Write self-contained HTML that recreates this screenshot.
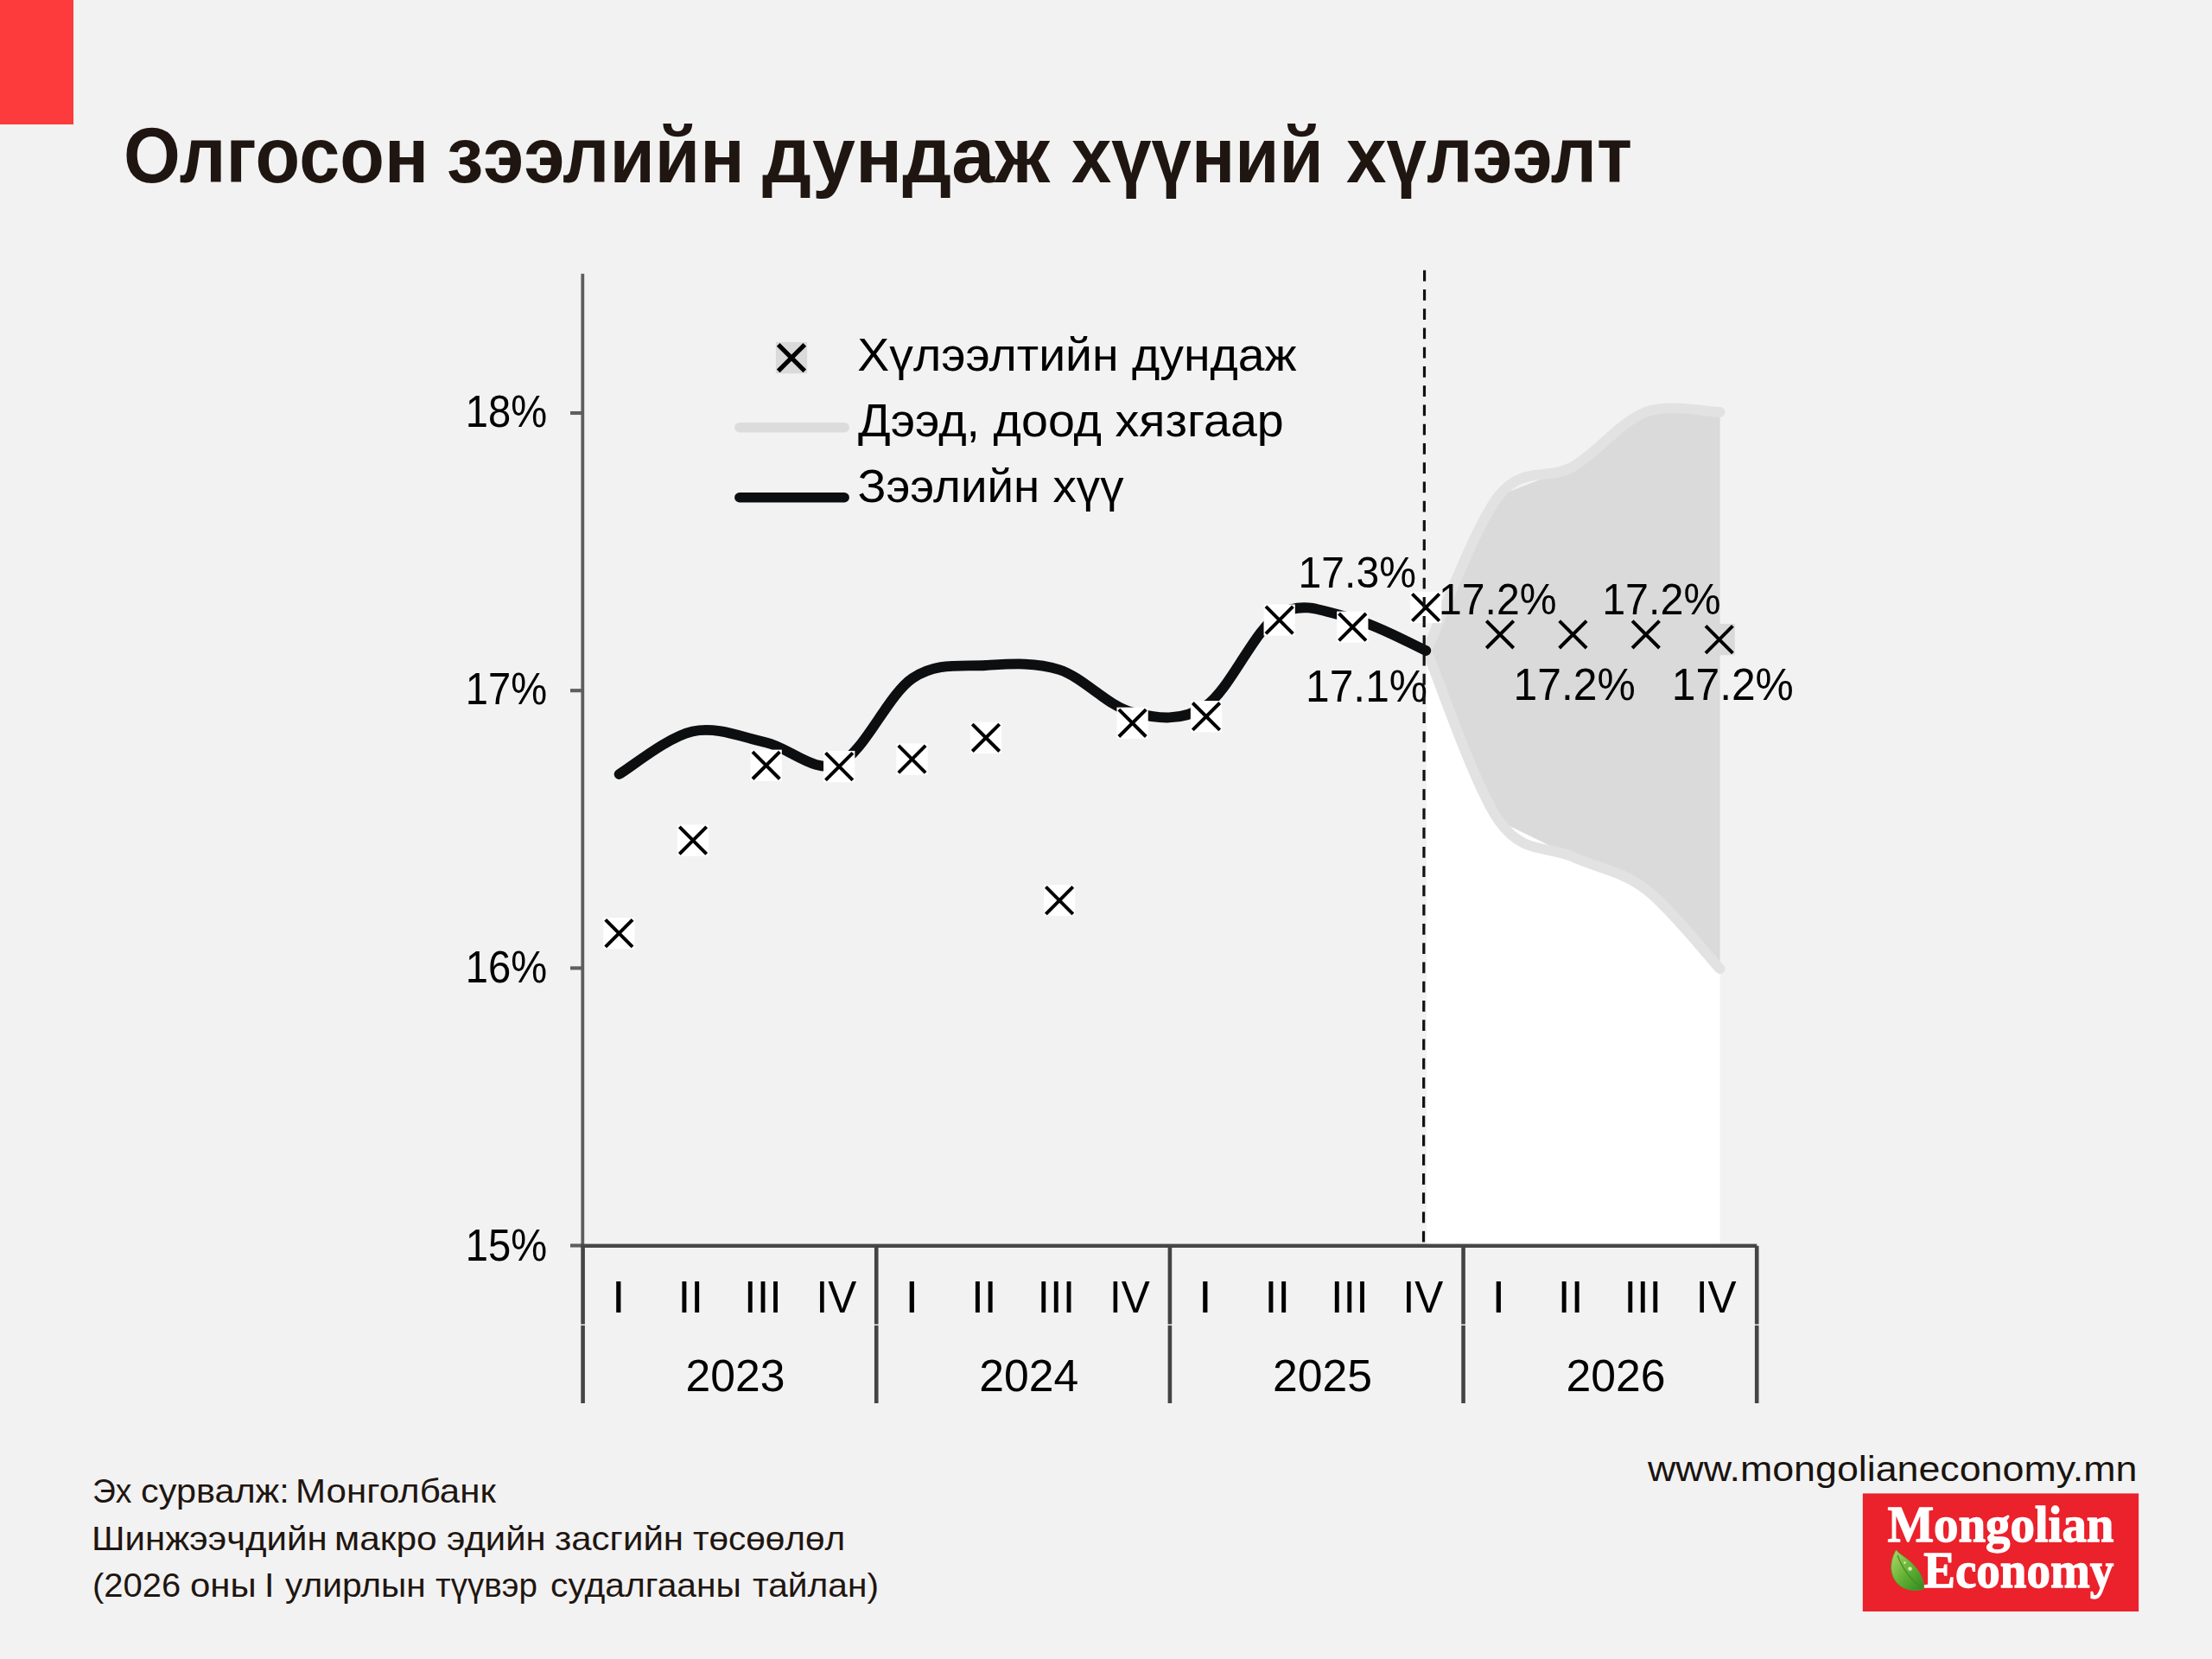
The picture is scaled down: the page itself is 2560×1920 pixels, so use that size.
<!DOCTYPE html>
<html lang="mn">
<head>
<meta charset="utf-8">
<title>Олгосон зээлийн дундаж хүүний хүлээлт</title>
<style>
html,body{margin:0;padding:0;}
body{width:2560px;height:1920px;background:#f2f2f2;position:relative;overflow:hidden;font-family:"Liberation Sans",sans-serif;}
.accent{position:absolute;left:0;top:0;width:84.5px;height:143.7px;background:#fe3b3c;}
h1.title{position:absolute;left:0;top:134.27px;margin:0;font-size:91.00px;line-height:1;font-weight:bold;color:#1f1611;white-space:nowrap;}
h1.title span{position:absolute;top:0;transform-origin:0 0;}
.src{position:absolute;left:0;margin:0;font-size:39.00px;line-height:1;color:#1f1611;white-space:nowrap;}
.src span{position:absolute;top:0;transform-origin:0 0;}
.url{position:absolute;left:1906.91px;top:1679.84px;font-size:40.00px;line-height:1;color:#1a1410;white-space:nowrap;transform-origin:0 0;transform:scaleX(1.11892);}
svg{position:absolute;left:0;top:0;}
</style>
</head>
<body>
<div class="accent"></div>
<h1 class="title"><span style="left:142.91px;transform:scaleX(0.92997)">Олгосон</span> <span style="left:517.46px;transform:scaleX(0.93615)">зээлийн</span> <span style="left:882.03px;transform:scaleX(0.98671)">дундаж</span> <span style="left:1240.28px;transform:scaleX(0.91506)">хүүний</span> <span style="left:1557.57px;transform:scaleX(0.92008)">хүлээлт</span></h1>
<svg width="2560" height="1920" viewBox="0 0 2560 1920">
<text x="1510.97" y="812.10" font-family="'Liberation Sans', sans-serif" font-size="51.50" font-weight="normal" fill="#000" textLength="141.08" lengthAdjust="spacingAndGlyphs">17.1%</text>
<polygon points="1651.00,753.00 1734.80,950.00 1819.70,991.50 1904.50,1029.00 1990.60,1121.30 1990.60,1441.80 1651.00,1441.80" fill="#ffffff"/>
<polygon points="1651.00,753.00 1734.80,950.00 1819.70,991.50 1904.50,1029.00 1990.60,1121.30 1990.60,477.00 1904.50,477.00 1819.70,540.50 1734.80,573.50 1651.00,753.00" fill="#dadada"/>
<path d="M1651.00 753.00 C1664.97 723.08 1706.68 608.92 1734.80 573.50 C1762.92 538.08 1791.42 556.58 1819.70 540.50 C1847.98 524.42 1876.02 487.58 1904.50 477.00 C1932.98 466.42 1976.25 477.00 1990.60 477.00" fill="none" stroke="#e2e2e2" stroke-width="11.8" stroke-linecap="round" stroke-linejoin="round"/>
<path d="M1651.00 753.00 C1664.97 785.83 1706.68 910.25 1734.80 950.00 C1762.92 989.75 1791.42 978.33 1819.70 991.50 C1847.98 1004.67 1876.02 1007.37 1904.50 1029.00 C1932.98 1050.63 1976.25 1105.92 1990.60 1121.30" fill="none" stroke="#e2e2e2" stroke-width="11.8" stroke-linecap="round" stroke-linejoin="round"/>
<rect x="672.40" y="316.8" width="3.8" height="1125.00" fill="#5e5e5e"/>
<rect x="660" y="475.95" width="14.30" height="4.1" fill="#5e5e5e"/>
<rect x="660" y="797.15" width="14.30" height="4.1" fill="#5e5e5e"/>
<rect x="660" y="1118.35" width="14.30" height="4.1" fill="#5e5e5e"/>
<rect x="660" y="1439.45" width="14.30" height="4.1" fill="#5e5e5e"/>
<rect x="672.30" y="1439.60" width="1360.90" height="4.4" fill="#474747"/>
<rect x="672.30" y="1441.80" width="4.6" height="90.80" fill="#444444"/>
<rect x="672.30" y="1534.0" width="4.6" height="90.0" fill="#444444"/>
<rect x="1011.95" y="1441.80" width="4.6" height="90.80" fill="#444444"/>
<rect x="1011.95" y="1534.0" width="4.6" height="90.0" fill="#444444"/>
<rect x="1351.60" y="1441.80" width="4.6" height="90.80" fill="#444444"/>
<rect x="1351.60" y="1534.0" width="4.6" height="90.0" fill="#444444"/>
<rect x="1691.25" y="1441.80" width="4.6" height="90.80" fill="#444444"/>
<rect x="1691.25" y="1534.0" width="4.6" height="90.0" fill="#444444"/>
<rect x="2030.90" y="1441.80" width="4.6" height="90.80" fill="#444444"/>
<rect x="2030.90" y="1534.0" width="4.6" height="90.0" fill="#444444"/>
<text x="538.76" y="493.60" font-family="'Liberation Sans', sans-serif" font-size="51.50" font-weight="normal" fill="#000" textLength="94.44" lengthAdjust="spacingAndGlyphs">18%</text>
<text x="538.76" y="814.90" font-family="'Liberation Sans', sans-serif" font-size="51.50" font-weight="normal" fill="#000" textLength="94.44" lengthAdjust="spacingAndGlyphs">17%</text>
<text x="538.76" y="1136.70" font-family="'Liberation Sans', sans-serif" font-size="51.50" font-weight="normal" fill="#000" textLength="94.44" lengthAdjust="spacingAndGlyphs">16%</text>
<text x="538.76" y="1459.10" font-family="'Liberation Sans', sans-serif" font-size="51.50" font-weight="normal" fill="#000" textLength="94.44" lengthAdjust="spacingAndGlyphs">15%</text>
<text x="708.10" y="1518.50" font-family="'Liberation Sans', sans-serif" font-size="51.50" font-weight="normal" fill="#000" textLength="15.62" lengthAdjust="spacingAndGlyphs">I</text>
<text x="784.44" y="1518.50" font-family="'Liberation Sans', sans-serif" font-size="51.50" font-weight="normal" fill="#000" textLength="29.59" lengthAdjust="spacingAndGlyphs">II</text>
<text x="861.10" y="1518.50" font-family="'Liberation Sans', sans-serif" font-size="51.50" font-weight="normal" fill="#000" textLength="43.64" lengthAdjust="spacingAndGlyphs">III</text>
<text x="944.43" y="1518.50" font-family="'Liberation Sans', sans-serif" font-size="51.50" font-weight="normal" fill="#000" textLength="46.82" lengthAdjust="spacingAndGlyphs">IV</text>
<text x="1047.58" y="1518.50" font-family="'Liberation Sans', sans-serif" font-size="51.50" font-weight="normal" fill="#000" textLength="15.62" lengthAdjust="spacingAndGlyphs">I</text>
<text x="1123.92" y="1518.50" font-family="'Liberation Sans', sans-serif" font-size="51.50" font-weight="normal" fill="#000" textLength="29.59" lengthAdjust="spacingAndGlyphs">II</text>
<text x="1200.58" y="1518.50" font-family="'Liberation Sans', sans-serif" font-size="51.50" font-weight="normal" fill="#000" textLength="43.64" lengthAdjust="spacingAndGlyphs">III</text>
<text x="1283.91" y="1518.50" font-family="'Liberation Sans', sans-serif" font-size="51.50" font-weight="normal" fill="#000" textLength="46.82" lengthAdjust="spacingAndGlyphs">IV</text>
<text x="1387.06" y="1518.50" font-family="'Liberation Sans', sans-serif" font-size="51.50" font-weight="normal" fill="#000" textLength="15.62" lengthAdjust="spacingAndGlyphs">I</text>
<text x="1463.40" y="1518.50" font-family="'Liberation Sans', sans-serif" font-size="51.50" font-weight="normal" fill="#000" textLength="29.59" lengthAdjust="spacingAndGlyphs">II</text>
<text x="1540.06" y="1518.50" font-family="'Liberation Sans', sans-serif" font-size="51.50" font-weight="normal" fill="#000" textLength="43.64" lengthAdjust="spacingAndGlyphs">III</text>
<text x="1623.39" y="1518.50" font-family="'Liberation Sans', sans-serif" font-size="51.50" font-weight="normal" fill="#000" textLength="46.82" lengthAdjust="spacingAndGlyphs">IV</text>
<text x="1726.54" y="1518.50" font-family="'Liberation Sans', sans-serif" font-size="51.50" font-weight="normal" fill="#000" textLength="15.62" lengthAdjust="spacingAndGlyphs">I</text>
<text x="1802.88" y="1518.50" font-family="'Liberation Sans', sans-serif" font-size="51.50" font-weight="normal" fill="#000" textLength="29.59" lengthAdjust="spacingAndGlyphs">II</text>
<text x="1879.54" y="1518.50" font-family="'Liberation Sans', sans-serif" font-size="51.50" font-weight="normal" fill="#000" textLength="43.64" lengthAdjust="spacingAndGlyphs">III</text>
<text x="1962.87" y="1518.50" font-family="'Liberation Sans', sans-serif" font-size="51.50" font-weight="normal" fill="#000" textLength="46.82" lengthAdjust="spacingAndGlyphs">IV</text>
<text x="793.52" y="1609.70" font-family="'Liberation Sans', sans-serif" font-size="51.50" font-weight="normal" fill="#000" textLength="114.99" lengthAdjust="spacingAndGlyphs">2023</text>
<text x="1133.22" y="1609.70" font-family="'Liberation Sans', sans-serif" font-size="51.50" font-weight="normal" fill="#000" textLength="114.99" lengthAdjust="spacingAndGlyphs">2024</text>
<text x="1472.92" y="1609.70" font-family="'Liberation Sans', sans-serif" font-size="51.50" font-weight="normal" fill="#000" textLength="114.99" lengthAdjust="spacingAndGlyphs">2025</text>
<text x="1812.62" y="1609.70" font-family="'Liberation Sans', sans-serif" font-size="51.50" font-weight="normal" fill="#000" textLength="114.99" lengthAdjust="spacingAndGlyphs">2026</text>
<path d="M716.60 896.00 C730.73 887.75 773.13 852.62 801.40 846.50 C829.67 840.38 857.92 853.05 886.20 859.30 C914.48 865.55 942.80 896.38 971.10 884.00 C999.40 871.62 1027.72 804.00 1056.00 785.00 C1084.28 766.00 1112.52 771.67 1140.80 770.00 C1169.08 768.33 1197.40 765.92 1225.70 775.00 C1254.00 784.08 1282.32 817.50 1310.60 824.50 C1338.88 831.50 1367.12 835.92 1395.40 817.00 C1423.68 798.08 1452.00 727.83 1480.30 711.00 C1508.60 694.17 1536.87 709.00 1565.20 716.00 C1593.53 723.00 1636.12 746.83 1650.30 753.00" fill="none" stroke="#0c0e10" stroke-width="11.8" stroke-linecap="round" stroke-linejoin="round"/>
<g><rect x="698.25" y="1061.95" width="36.30" height="36.30" fill="#ffffff"/><path d="M700.70 1064.40 L732.10 1095.80 M700.70 1095.80 L732.10 1064.40" stroke="#000" stroke-width="4.00" fill="none"/></g>
<g><rect x="783.85" y="954.45" width="36.30" height="36.30" fill="#ffffff"/><path d="M786.30 956.90 L817.70 988.30 M786.30 988.30 L817.70 956.90" stroke="#000" stroke-width="4.00" fill="none"/></g>
<g><rect x="868.55" y="867.65" width="36.30" height="36.30" fill="#ffffff"/><path d="M871.00 870.10 L902.40 901.50 M871.00 901.50 L902.40 870.10" stroke="#000" stroke-width="4.00" fill="none"/></g>
<g><rect x="953.05" y="868.95" width="36.30" height="36.30" fill="#ffffff"/><path d="M955.50 871.40 L986.90 902.80 M955.50 902.80 L986.90 871.40" stroke="#000" stroke-width="4.00" fill="none"/></g>
<g><rect x="1037.35" y="860.45" width="36.30" height="36.30" fill="#ffffff"/><path d="M1039.80 862.90 L1071.20 894.30 M1039.80 894.30 L1071.20 862.90" stroke="#000" stroke-width="4.00" fill="none"/></g>
<g><rect x="1122.85" y="835.65" width="36.30" height="36.30" fill="#ffffff"/><path d="M1125.30 838.10 L1156.70 869.50 M1125.30 869.50 L1156.70 838.10" stroke="#000" stroke-width="4.00" fill="none"/></g>
<g><rect x="1207.95" y="1023.95" width="36.30" height="36.30" fill="#ffffff"/><path d="M1210.40 1026.40 L1241.80 1057.80 M1210.40 1057.80 L1241.80 1026.40" stroke="#000" stroke-width="4.00" fill="none"/></g>
<g><rect x="1292.45" y="818.65" width="36.30" height="36.30" fill="#ffffff"/><path d="M1294.90 821.10 L1326.30 852.50 M1294.90 852.50 L1326.30 821.10" stroke="#000" stroke-width="4.00" fill="none"/></g>
<g><rect x="1377.85" y="811.05" width="36.30" height="36.30" fill="#ffffff"/><path d="M1380.30 813.50 L1411.70 844.90 M1380.30 844.90 L1411.70 813.50" stroke="#000" stroke-width="4.00" fill="none"/></g>
<g><rect x="1462.55" y="699.45" width="36.30" height="36.30" fill="#ffffff"/><path d="M1465.00 701.90 L1496.40 733.30 M1465.00 733.30 L1496.40 701.90" stroke="#000" stroke-width="4.00" fill="none"/></g>
<g><rect x="1547.15" y="707.55" width="36.30" height="36.30" fill="#ffffff"/><path d="M1549.60 710.00 L1581.00 741.40 M1549.60 741.40 L1581.00 710.00" stroke="#000" stroke-width="4.00" fill="none"/></g>
<g><rect x="1631.95" y="684.85" width="36.30" height="36.30" fill="#ffffff"/><path d="M1634.40 687.30 L1665.80 718.70 M1634.40 718.70 L1665.80 687.30" stroke="#000" stroke-width="4.00" fill="none"/></g>
<g><rect x="1717.85" y="716.15" width="36.30" height="36.30" fill="#dadada"/><path d="M1720.30 718.60 L1751.70 750.00 M1720.30 750.00 L1751.70 718.60" stroke="#000" stroke-width="4.00" fill="none"/></g>
<g><rect x="1802.25" y="716.15" width="36.30" height="36.30" fill="#dadada"/><path d="M1804.70 718.60 L1836.10 750.00 M1804.70 750.00 L1836.10 718.60" stroke="#000" stroke-width="4.00" fill="none"/></g>
<g><rect x="1886.65" y="716.15" width="36.30" height="36.30" fill="#dadada"/><path d="M1889.10 718.60 L1920.50 750.00 M1889.10 750.00 L1920.50 718.60" stroke="#000" stroke-width="4.00" fill="none"/></g>
<g><rect x="1971.55" y="721.95" width="36.30" height="36.30" fill="#dadada"/><path d="M1974.00 724.40 L2005.40 755.80 M1974.00 755.80 L2005.40 724.40" stroke="#000" stroke-width="4.00" fill="none"/></g>
<text x="1502.59" y="679.90" font-family="'Liberation Sans', sans-serif" font-size="49.80" font-weight="normal" fill="#000" textLength="136.40" lengthAdjust="spacingAndGlyphs">17.3%</text>
<text x="1665.09" y="710.60" font-family="'Liberation Sans', sans-serif" font-size="49.80" font-weight="normal" fill="#000" textLength="136.50" lengthAdjust="spacingAndGlyphs">17.2%</text>
<text x="1854.17" y="710.60" font-family="'Liberation Sans', sans-serif" font-size="49.80" font-weight="normal" fill="#000" textLength="137.33" lengthAdjust="spacingAndGlyphs">17.2%</text>
<text x="1751.57" y="809.70" font-family="'Liberation Sans', sans-serif" font-size="51.50" font-weight="normal" fill="#000" textLength="141.18" lengthAdjust="spacingAndGlyphs">17.2%</text>
<text x="1934.87" y="809.70" font-family="'Liberation Sans', sans-serif" font-size="51.50" font-weight="normal" fill="#000" textLength="140.97" lengthAdjust="spacingAndGlyphs">17.2%</text>
<line x1="1648.6" y1="312.8" x2="1647.5" y2="1439.80" stroke="#111" stroke-width="3.2" stroke-dasharray="12.8 9.44"/>
<g><rect x="897.85" y="395.95" width="36.30" height="36.30" fill="#dadada"/><path d="M900.70 398.80 L931.30 429.40 M900.70 429.40 L931.30 398.80" stroke="#000" stroke-width="5.20" fill="none"/></g>
<line x1="855.8" y1="494.8" x2="977.2" y2="494.8" stroke="#dcdcdc" stroke-width="11.4" stroke-linecap="round"/>
<line x1="855.8" y1="575.8" x2="977.2" y2="575.8" stroke="#0c0e10" stroke-width="11.4" stroke-linecap="round"/>
<text x="992.35" y="429.30" font-family="'Liberation Sans', sans-serif" font-size="53.40" font-weight="normal" fill="#000" textLength="508.31" lengthAdjust="spacingAndGlyphs">Хүлээлтийн дундаж</text>
<text x="992.98" y="504.80" font-family="'Liberation Sans', sans-serif" font-size="53.40" font-weight="normal" fill="#000" textLength="492.84" lengthAdjust="spacingAndGlyphs">Дээд, доод хязгаар</text>
<text x="992.42" y="580.60" font-family="'Liberation Sans', sans-serif" font-size="53.40" font-weight="normal" fill="#000" textLength="308.07" lengthAdjust="spacingAndGlyphs">Зээлийн хүү</text>
<rect x="2155.8" y="1728.4" width="319.3" height="136.6" fill="#eb212b"/>
<text x="2184.41" y="1784.40" font-family="'Liberation Serif', serif" font-size="60.00" font-weight="bold" fill="#fff" textLength="262.01" lengthAdjust="spacingAndGlyphs" stroke="#fff" stroke-width="1.3" stroke-linejoin="round">Mongolian</text>
<text x="2226.34" y="1837.10" font-family="'Liberation Serif', serif" font-size="60.00" font-weight="bold" fill="#fff" textLength="219.81" lengthAdjust="spacingAndGlyphs" stroke="#fff" stroke-width="1.3" stroke-linejoin="round">Economy</text>
<defs><linearGradient id="lg" x1="0" y1="0" x2="1" y2="1"><stop offset="0" stop-color="#b5d96a"/><stop offset="0.55" stop-color="#5fae32"/><stop offset="1" stop-color="#2f8a22"/></linearGradient></defs>
<path d="M2194.5 1793.5 C2186 1808 2186 1826 2200 1836 C2208 1841 2219 1842 2226.5 1838.5 C2227 1824 2217 1812 2207 1804 C2201 1799.5 2196 1796.5 2194.5 1793.5 Z" fill="url(#lg)" stroke="#4c9a2a" stroke-width="0.8"/>
<path d="M2196 1800 C2202 1816 2212 1829 2225 1838" fill="none" stroke="#3f8f26" stroke-width="1.2"/>
<circle cx="2210.5" cy="1815.5" r="2.6" fill="#d8efb0" stroke="#6db23c" stroke-width="0.7"/>
<circle cx="2204.5" cy="1808.5" r="1.7" fill="#d8efb0" stroke="#6db23c" stroke-width="0.6"/>
</svg>
<p class="src" style="top:1705.89px"><span style="left:107.35px;transform:scaleX(0.95460)">Эх</span> <span style="left:163.04px;transform:scaleX(1.06074)">сурвалж:</span> <span style="left:342.03px;transform:scaleX(1.07945)">Монголбанк</span></p>
<p class="src" style="top:1761.09px"><span style="left:105.83px;transform:scaleX(1.07743)">Шинжээчдийн</span> <span style="left:386.73px;transform:scaleX(1.08968)">макро</span> <span style="left:517.15px;transform:scaleX(1.07217)">эдийн</span> <span style="left:642.15px;transform:scaleX(1.07685)">засгийн</span> <span style="left:802.29px;transform:scaleX(1.03767)">төсөөлөл</span></p>
<p class="src" style="top:1814.79px"><span style="left:107.11px;transform:scaleX(1.02355)">(2026</span> <span style="left:220.32px;transform:scaleX(1.07498)">оны</span> <span style="left:306.20px;transform:scaleX(1.05336)">I</span> <span style="left:329.70px;transform:scaleX(1.04393)">улирлын</span> <span style="left:504.22px;transform:scaleX(0.98971)">түүвэр</span> <span style="left:636.97px;transform:scaleX(1.04546)">судалгааны</span> <span style="left:870.79px;transform:scaleX(1.04392)">тайлан)</span></p>
<div class="url">www.mongolianeconomy.mn</div>
</body>
</html>
